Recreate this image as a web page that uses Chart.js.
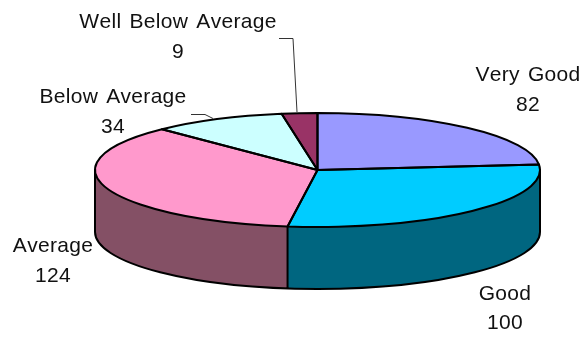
<!DOCTYPE html>
<html>
<head>
<meta charset="utf-8">
<style>
  html, body { margin: 0; background: #fff; }
  canvas { display: block; }
</style>
<script src="https://cdn.jsdelivr.net/npm/chart.js@4/dist/chart.umd.min.js"></script>
</head>
<body>
<canvas id="chart-pie" width="586" height="338"></canvas>
<script>
"use strict";

const categories = ["Very Good", "Good", "Average", "Below Average", "Well Below Average"];
const counts = [82, 100, 124, 34, 9];
const topColors = ["#9999ff", "#00ccff", "#ff99cc", "#ccffff", "#993366"];
const sideColors = ["#4d4d80", "#006680", "#845065", "#668080", "#4d1a33"];

// ── layout of the tilted pie ───────────────────────────────────────────────────
const CX = 317.5, CY = 170, RX = 222.5, RY = 57, DEPTH = 62;
const LABEL_POS = [[528, 75, 105], [505, 294, 323], [53, 246, 276], [113, 97, 127], [178, 22, 52]];
const LEADERS = [
  [[191, 114.5], [205, 114.5], [213, 118.5]],
  [[279, 38.5], [293, 38.5], [297, 112]],
];

const tiltPlugin = {
  id: "tilt",
  beforeDatasetsDraw(chart) {
    const ctx = chart.ctx;
    const arcs = chart.getDatasetMeta(0).data;

    // side wall: only the front half of the rim shows
    arcs.forEach((el, i) => {
      const a = Math.max(el.startAngle, 0);
      const b = Math.min(el.endAngle, Math.PI);
      if (b <= a) return;
      ctx.beginPath();
      ctx.ellipse(CX, CY, RX, RY, 0, a, b);
      ctx.ellipse(CX, CY + DEPTH, RX, RY, 0, b, a, true);
      ctx.closePath();
      ctx.fillStyle = sideColors[i];
      ctx.fill();
    });

    // squash the library's arcs into the top face
    const { x, y, outerRadius } = arcs[0];
    ctx.save();
    ctx.translate(CX, CY);
    ctx.scale(RX / outerRadius, RY / outerRadius);
    ctx.translate(-x, -y);
  },
  afterDatasetsDraw(chart) {
    const ctx = chart.ctx;
    ctx.restore();
    const arcs = chart.getDatasetMeta(0).data;

    ctx.strokeStyle = "#000";
    ctx.lineWidth = 2;
    ctx.lineJoin = "round";

    // outlines in screen space so the line width stays even
    arcs.forEach(el => {
      ctx.beginPath();
      ctx.moveTo(CX, CY);
      ctx.ellipse(CX, CY, RX, RY, 0, el.startAngle, el.endAngle);
      ctx.closePath();
      ctx.stroke();
    });

    ctx.beginPath();
    ctx.ellipse(CX, CY + DEPTH, RX, RY, 0, 0, Math.PI);
    ctx.moveTo(CX + RX, CY);
    ctx.lineTo(CX + RX, CY + DEPTH);
    ctx.moveTo(CX - RX, CY);
    ctx.lineTo(CX - RX, CY + DEPTH);
    arcs.forEach(el => {
      if (el.endAngle > 0 && el.endAngle < Math.PI) {
        const px = CX + RX * Math.cos(el.endAngle);
        const py = CY + RY * Math.sin(el.endAngle);
        ctx.moveTo(px, py);
        ctx.lineTo(px, py + DEPTH);
      }
    });
    ctx.stroke();

    // leader lines
    ctx.strokeStyle = "#333";
    ctx.lineWidth = 1;
    LEADERS.forEach(pts => {
      ctx.beginPath();
      pts.forEach(([px, py], i) => (i ? ctx.lineTo(px, py) : ctx.moveTo(px, py)));
      ctx.stroke();
    });

    // labels
    ctx.fillStyle = "#111";
    ctx.font = '21px "Liberation Sans", Arial, sans-serif';
    ctx.textAlign = "center";
    ctx.textBaseline = "middle";
    ctx.fontKerning = "none";
    ctx.letterSpacing = "0.3px";
    ctx.wordSpacing = "2px";
    categories.forEach((name, i) => {
      const [lx, y1, y2] = LABEL_POS[i];
      ctx.fillText(name, lx, y1);
      ctx.fillText(String(counts[i]), lx, y2);
    });
  },
};

new Chart(document.getElementById("chart-pie"), {
  type: "pie",
  data: {
    labels: categories,
    datasets: [{ data: counts, backgroundColor: topColors, borderWidth: 0 }],
  },
  options: {
    responsive: false,
    animation: false,
    events: [],
    layout: { padding: 0 },
    plugins: { legend: { display: false }, tooltip: { enabled: false } },
  },
  plugins: [tiltPlugin],
});
</script>
</body>
</html>
